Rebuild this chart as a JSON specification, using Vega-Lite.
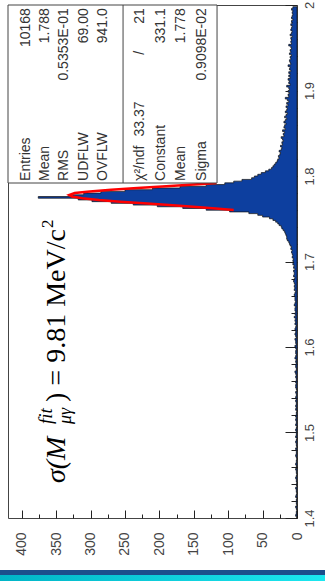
{
  "$schema": "https://vega.github.io/schema/vega-lite/v6.json",
  "width": 289,
  "height": 513,
  "autosize": "none",
  "padding": {"left": 8, "top": 5, "right": 28, "bottom": 63},
  "background": "white",
  "config": {"view": {"stroke": "#444", "strokeWidth": 1}, "font": "Liberation Sans"},
  "datasets": {
    "hist": [
      {"lo":1.400,"n":1},{"lo":1.402,"n":0},{"lo":1.404,"n":2},{"lo":1.406,"n":1},{"lo":1.408,"n":1},{"lo":1.410,"n":0},{"lo":1.412,"n":1},{"lo":1.414,"n":2},{"lo":1.416,"n":0},{"lo":1.418,"n":1},
      {"lo":1.420,"n":1},{"lo":1.422,"n":1},{"lo":1.424,"n":0},{"lo":1.426,"n":2},{"lo":1.428,"n":1},{"lo":1.430,"n":0},{"lo":1.432,"n":1},{"lo":1.434,"n":1},{"lo":1.436,"n":2},{"lo":1.438,"n":0},
      {"lo":1.440,"n":1},{"lo":1.442,"n":0},{"lo":1.444,"n":1},{"lo":1.446,"n":1},{"lo":1.448,"n":2},{"lo":1.450,"n":1},{"lo":1.452,"n":0},{"lo":1.454,"n":1},{"lo":1.456,"n":1},{"lo":1.458,"n":2},
      {"lo":1.460,"n":0},{"lo":1.462,"n":1},{"lo":1.464,"n":2},{"lo":1.466,"n":1},{"lo":1.468,"n":1},{"lo":1.470,"n":0},{"lo":1.472,"n":1},{"lo":1.474,"n":2},{"lo":1.476,"n":1},{"lo":1.478,"n":1},
      {"lo":1.480,"n":1},{"lo":1.482,"n":2},{"lo":1.484,"n":0},{"lo":1.486,"n":1},{"lo":1.488,"n":1},{"lo":1.490,"n":2},{"lo":1.492,"n":1},{"lo":1.494,"n":0},{"lo":1.496,"n":2},{"lo":1.498,"n":1},
      {"lo":1.500,"n":1},{"lo":1.502,"n":1},{"lo":1.504,"n":2},{"lo":1.506,"n":1},{"lo":1.508,"n":0},{"lo":1.510,"n":2},{"lo":1.512,"n":1},{"lo":1.514,"n":1},{"lo":1.516,"n":2},{"lo":1.518,"n":1},
      {"lo":1.520,"n":2},{"lo":1.522,"n":1},{"lo":1.524,"n":1},{"lo":1.526,"n":0},{"lo":1.528,"n":2},{"lo":1.530,"n":1},{"lo":1.532,"n":2},{"lo":1.534,"n":1},{"lo":1.536,"n":1},{"lo":1.538,"n":2},
      {"lo":1.540,"n":1},{"lo":1.542,"n":2},{"lo":1.544,"n":1},{"lo":1.546,"n":1},{"lo":1.548,"n":2},{"lo":1.550,"n":0},{"lo":1.552,"n":1},{"lo":1.554,"n":2},{"lo":1.556,"n":2},{"lo":1.558,"n":1},
      {"lo":1.560,"n":2},{"lo":1.562,"n":1},{"lo":1.564,"n":1},{"lo":1.566,"n":2},{"lo":1.568,"n":1},{"lo":1.570,"n":2},{"lo":1.572,"n":3},{"lo":1.574,"n":1},{"lo":1.576,"n":1},{"lo":1.578,"n":2},
      {"lo":1.580,"n":2},{"lo":1.582,"n":1},{"lo":1.584,"n":2},{"lo":1.586,"n":1},{"lo":1.588,"n":3},{"lo":1.590,"n":2},{"lo":1.592,"n":1},{"lo":1.594,"n":2},{"lo":1.596,"n":2},{"lo":1.598,"n":1},
      {"lo":1.600,"n":2},{"lo":1.602,"n":3},{"lo":1.604,"n":1},{"lo":1.606,"n":2},{"lo":1.608,"n":2},{"lo":1.610,"n":3},{"lo":1.612,"n":1},{"lo":1.614,"n":2},{"lo":1.616,"n":3},{"lo":1.618,"n":2},
      {"lo":1.620,"n":2},{"lo":1.622,"n":3},{"lo":1.624,"n":2},{"lo":1.626,"n":1},{"lo":1.628,"n":3},{"lo":1.630,"n":2},{"lo":1.632,"n":3},{"lo":1.634,"n":2},{"lo":1.636,"n":4},{"lo":1.638,"n":2},
      {"lo":1.640,"n":3},{"lo":1.642,"n":2},{"lo":1.644,"n":3},{"lo":1.646,"n":3},{"lo":1.648,"n":2},{"lo":1.650,"n":4},{"lo":1.652,"n":3},{"lo":1.654,"n":2},{"lo":1.656,"n":3},{"lo":1.658,"n":3},
      {"lo":1.660,"n":3},{"lo":1.662,"n":4},{"lo":1.664,"n":3},{"lo":1.666,"n":2},{"lo":1.668,"n":4},{"lo":1.670,"n":3},{"lo":1.672,"n":4},{"lo":1.674,"n":3},{"lo":1.676,"n":4},{"lo":1.678,"n":5},
      {"lo":1.680,"n":4},{"lo":1.682,"n":3},{"lo":1.684,"n":5},{"lo":1.686,"n":4},{"lo":1.688,"n":4},{"lo":1.690,"n":5},{"lo":1.692,"n":3},{"lo":1.694,"n":5},{"lo":1.696,"n":4},{"lo":1.698,"n":6},
      {"lo":1.700,"n":5},{"lo":1.702,"n":6},{"lo":1.704,"n":5},{"lo":1.706,"n":7},{"lo":1.708,"n":6},{"lo":1.710,"n":7},{"lo":1.712,"n":8},{"lo":1.714,"n":7},{"lo":1.716,"n":9},{"lo":1.718,"n":8},
      {"lo":1.720,"n":10},{"lo":1.722,"n":11},{"lo":1.724,"n":12},{"lo":1.726,"n":14},{"lo":1.728,"n":15},{"lo":1.730,"n":15},{"lo":1.732,"n":16},{"lo":1.734,"n":17},{"lo":1.736,"n":18},{"lo":1.738,"n":20},
      {"lo":1.740,"n":22},{"lo":1.742,"n":23},{"lo":1.744,"n":26},{"lo":1.746,"n":28},{"lo":1.748,"n":31},{"lo":1.750,"n":35},{"lo":1.752,"n":40},{"lo":1.754,"n":50},{"lo":1.756,"n":57},{"lo":1.758,"n":70},
      {"lo":1.760,"n":98},{"lo":1.762,"n":132},{"lo":1.764,"n":166},{"lo":1.766,"n":203},{"lo":1.768,"n":238},{"lo":1.770,"n":270},{"lo":1.772,"n":298},{"lo":1.774,"n":318},{"lo":1.776,"n":376},{"lo":1.778,"n":326},
      {"lo":1.780,"n":310},{"lo":1.782,"n":285},{"lo":1.784,"n":250},{"lo":1.786,"n":210},{"lo":1.788,"n":170},{"lo":1.790,"n":132},{"lo":1.792,"n":105},{"lo":1.794,"n":92},{"lo":1.796,"n":80},{"lo":1.798,"n":66},
      {"lo":1.800,"n":62},{"lo":1.802,"n":57},{"lo":1.804,"n":52},{"lo":1.806,"n":46},{"lo":1.808,"n":41},{"lo":1.810,"n":37},{"lo":1.812,"n":35},{"lo":1.814,"n":33},{"lo":1.816,"n":31},{"lo":1.818,"n":29},
      {"lo":1.820,"n":28},{"lo":1.822,"n":26},{"lo":1.824,"n":27},{"lo":1.826,"n":25},{"lo":1.828,"n":24},{"lo":1.830,"n":26},{"lo":1.832,"n":23},{"lo":1.834,"n":22},{"lo":1.836,"n":24},{"lo":1.838,"n":21},
      {"lo":1.840,"n":22},{"lo":1.842,"n":20},{"lo":1.844,"n":21},{"lo":1.846,"n":23},{"lo":1.848,"n":19},{"lo":1.850,"n":20},{"lo":1.852,"n":18},{"lo":1.854,"n":21},{"lo":1.856,"n":17},{"lo":1.858,"n":19},
      {"lo":1.860,"n":18},{"lo":1.862,"n":16},{"lo":1.864,"n":19},{"lo":1.866,"n":17},{"lo":1.868,"n":15},{"lo":1.870,"n":18},{"lo":1.872,"n":16},{"lo":1.874,"n":14},{"lo":1.876,"n":17},{"lo":1.878,"n":15},
      {"lo":1.880,"n":14},{"lo":1.882,"n":16},{"lo":1.884,"n":13},{"lo":1.886,"n":15},{"lo":1.888,"n":12},{"lo":1.890,"n":14},{"lo":1.892,"n":17},{"lo":1.894,"n":12},{"lo":1.896,"n":13},{"lo":1.898,"n":11},
      {"lo":1.900,"n":13},{"lo":1.902,"n":11},{"lo":1.904,"n":12},{"lo":1.906,"n":15},{"lo":1.908,"n":10},{"lo":1.910,"n":12},{"lo":1.912,"n":11},{"lo":1.914,"n":13},{"lo":1.916,"n":10},{"lo":1.918,"n":12},
      {"lo":1.920,"n":10},{"lo":1.922,"n":12},{"lo":1.924,"n":9},{"lo":1.926,"n":11},{"lo":1.928,"n":10},{"lo":1.930,"n":13},{"lo":1.932,"n":9},{"lo":1.934,"n":10},{"lo":1.936,"n":11},{"lo":1.938,"n":9},
      {"lo":1.940,"n":10},{"lo":1.942,"n":8},{"lo":1.944,"n":11},{"lo":1.946,"n":9},{"lo":1.948,"n":10},{"lo":1.950,"n":8},{"lo":1.952,"n":9},{"lo":1.954,"n":12},{"lo":1.956,"n":8},{"lo":1.958,"n":9},
      {"lo":1.960,"n":8},{"lo":1.962,"n":9},{"lo":1.964,"n":7},{"lo":1.966,"n":10},{"lo":1.968,"n":8},{"lo":1.970,"n":7},{"lo":1.972,"n":9},{"lo":1.974,"n":8},{"lo":1.976,"n":7},{"lo":1.978,"n":9},
      {"lo":1.980,"n":7},{"lo":1.982,"n":8},{"lo":1.984,"n":6},{"lo":1.986,"n":8},{"lo":1.988,"n":7},{"lo":1.990,"n":6},{"lo":1.992,"n":7},{"lo":1.994,"n":6},{"lo":1.996,"n":8},{"lo":1.998,"n":6}
    ],
    "fit": [
      {"m":1.7602,"f":92},{"m":1.762,"f":118},{"m":1.764,"f":151},{"m":1.766,"f":186},{"m":1.768,"f":223},{"m":1.770,"f":257},{"m":1.772,"f":288},{"m":1.774,"f":312},{"m":1.776,"f":327},{"m":1.7778,"f":331},
      {"m":1.780,"f":323},{"m":1.782,"f":301},{"m":1.784,"f":270},{"m":1.786,"f":232},{"m":1.788,"f":190},{"m":1.790,"f":150},{"m":1.7918,"f":117}
    ],
    "one": [{}]
  },
  "resolve": {"axis": {"x": "independent", "y": "independent"}},
  "layer": [
    {
      "data": {"name": "hist"},
      "mark": {"type": "area", "orient": "horizontal", "interpolate": "step-before", "fill": "#0d3f9f", "stroke": "#111", "strokeWidth": 0.7},
      "encoding": {
        "y": {"field": "lo", "type": "quantitative", "scale": {"domain": [1.4, 2.0], "nice": false, "zero": false},
              "axis": {"orient": "right", "values": [1.4, 1.5, 1.6, 1.7, 1.8, 1.9, 2.0], "format": ".1~f", "title": null, "grid": false, "domain": false,
                       "tickSize": -12, "tickColor": "#222", "tickWidth": 1, "labelAngle": -90, "labelAlign": "center", "labelBaseline": "top",
                       "labelPadding": 18, "labelFontSize": 13, "labelColor": "#444", "labelFont": "Liberation Sans", "labelFlush": false, "labelOverlap": false}},
        "x": {"field": "n", "type": "quantitative", "stack": null, "scale": {"domain": [0, 420], "reverse": true, "nice": false, "zero": false},
              "axis": {"orient": "bottom", "values": [0, 50, 100, 150, 200, 250, 300, 350, 400], "title": null, "grid": false, "domain": false,
                       "tickSize": -8, "tickColor": "#222", "tickWidth": 1, "labelAngle": -90, "labelAlign": "right", "labelBaseline": "middle",
                       "labelPadding": 22, "labelFontSize": 14, "labelColor": "#444", "labelFont": "Liberation Sans", "labelFlush": false, "labelOverlap": false}}
      }
    },
    {
      "data": {"name": "fit"},
      "mark": {"type": "line", "color": "#ff0000", "strokeWidth": 2.5},
      "encoding": {
        "y": {"field": "m", "type": "quantitative", "scale": {"domain": [1.4, 2.0], "nice": false, "zero": false},
              "axis": {"orient": "right", "values": [1.42,1.44,1.46,1.48,1.52,1.54,1.56,1.58,1.62,1.64,1.66,1.68,1.72,1.74,1.76,1.78,1.82,1.84,1.86,1.88,1.92,1.94,1.96,1.98],
                       "labels": false, "title": null, "grid": false, "domain": false, "tickSize": -6, "tickColor": "#222", "tickWidth": 1}},
        "x": {"field": "f", "type": "quantitative", "scale": {"domain": [0, 420], "reverse": true, "nice": false, "zero": false},
              "axis": {"orient": "bottom", "values": [25, 75, 125, 175, 225, 275, 325, 375],
                       "labels": false, "title": null, "grid": false, "domain": false, "tickSize": -4, "tickColor": "#222", "tickWidth": 1}},
        "order": {"field": "m", "type": "quantitative"}
      }
    },
    {
      "data": {"name": "one"},
      "mark": {"type": "rect", "fill": "white", "stroke": "#444", "strokeWidth": 1},
      "encoding": {
        "x": {"datum": 420, "type": "quantitative", "axis": null},
        "x2": {"datum": 116.2},
        "y": {"datum": 2.0, "type": "quantitative", "axis": null},
        "y2": {"datum": 1.7918}
      }
    },
    {
      "data": {"name": "one"},
      "mark": {"type": "rule", "color": "#444", "strokeWidth": 1},
      "encoding": {
        "x": {"datum": 252.8, "type": "quantitative", "axis": null},
        "y": {"datum": 2.0, "type": "quantitative", "axis": null},
        "y2": {"datum": 1.7918}
      }
    },
    {
      "data": {"name": "one"},
      "mark": {"type": "text", "text": ["Entries", "Mean", "RMS", "UDFLW", "OVFLW"], "angle": -90, "align": "left", "baseline": "top", "lineHeight": 19.2, "font": "Liberation Sans", "fontSize": 14, "color": "#333"},
      "encoding": {
        "x": {"datum": 404, "type": "quantitative", "axis": null},
        "y": {"datum": 1.7942, "type": "quantitative", "axis": null}
      }
    },
    {
      "data": {"name": "one"},
      "mark": {"type": "text", "text": ["10168", "1.788", "0.5353E-01", "69.00", "941.0"], "angle": -90, "align": "right", "baseline": "top", "lineHeight": 19.2, "font": "Liberation Sans", "fontSize": 14, "color": "#333"},
      "encoding": {
        "x": {"datum": 404, "type": "quantitative", "axis": null},
        "y": {"datum": 1.9963, "type": "quantitative", "axis": null}
      }
    },
    {
      "data": {"name": "one"},
      "mark": {"type": "text", "text": ["χ²/ndf", "Constant", "Mean", "Sigma"], "angle": -90, "align": "left", "baseline": "top", "lineHeight": 20.5, "font": "Liberation Sans", "fontSize": 14, "color": "#333"},
      "encoding": {
        "x": {"datum": 238, "type": "quantitative", "axis": null},
        "y": {"datum": 1.7942, "type": "quantitative", "axis": null}
      }
    },
    {
      "data": {"name": "one"},
      "mark": {"type": "text", "text": ["33.37\u00a0\u00a0\u00a0\u00a0\u00a0\u00a0\u00a0\u00a0\u00a0\u00a0\u00a0\u00a0/\u00a0\u00a0\u00a0\u00a0\u00a0\u00a0\u00a021", "331.1", "1.778", "0.9098E-02"], "angle": -90, "align": "right", "baseline": "top", "lineHeight": 20.5, "font": "Liberation Sans", "fontSize": 14, "color": "#333"},
      "encoding": {
        "x": {"datum": 238, "type": "quantitative", "axis": null},
        "y": {"datum": 1.9963, "type": "quantitative", "axis": null}
      }
    },
    {
      "data": {"name": "one"},
      "mark": {"type": "text", "text": "σ(M", "angle": -90, "align": "left", "baseline": "alphabetic", "font": "Liberation Serif", "fontStyle": "italic", "fontSize": 28, "color": "#000"},
      "encoding": {
        "x": {"datum": 337, "type": "quantitative", "axis": null},
        "y": {"datum": 1.4409, "type": "quantitative", "axis": null}
      }
    },
    {
      "data": {"name": "one"},
      "mark": {"type": "text", "text": "fit", "angle": -90, "align": "left", "baseline": "alphabetic", "font": "Liberation Serif", "fontStyle": "italic", "fontSize": 19, "color": "#000"},
      "encoding": {
        "x": {"datum": 356, "type": "quantitative", "axis": null},
        "y": {"datum": 1.5099, "type": "quantitative", "axis": null}
      }
    },
    {
      "data": {"name": "one"},
      "mark": {"type": "text", "text": "μγ", "angle": -90, "align": "left", "baseline": "alphabetic", "font": "Liberation Serif", "fontStyle": "italic", "fontSize": 18, "color": "#000"},
      "encoding": {
        "x": {"datum": 328, "type": "quantitative", "axis": null},
        "y": {"datum": 1.5099, "type": "quantitative", "axis": null}
      }
    },
    {
      "data": {"name": "one"},
      "mark": {"type": "text", "text": ") = 9.81 MeV/c", "angle": -90, "align": "left", "baseline": "alphabetic", "font": "Liberation Serif", "fontSize": 28, "color": "#000"},
      "encoding": {
        "x": {"datum": 337, "type": "quantitative", "axis": null},
        "y": {"datum": 1.5357, "type": "quantitative", "axis": null}
      }
    },
    {
      "data": {"name": "one"},
      "mark": {"type": "text", "text": "2", "angle": -90, "align": "left", "baseline": "alphabetic", "font": "Liberation Serif", "fontSize": 17, "color": "#000"},
      "encoding": {
        "x": {"datum": 354.5, "type": "quantitative", "axis": null},
        "y": {"datum": 1.7392, "type": "quantitative", "axis": null}
      }
    },
    {
      "data": {"name": "one"},
      "mark": {"type": "rect", "color": "#1c4f8c"},
      "encoding": {
        "x": {"datum": 440, "type": "quantitative", "axis": null},
        "x2": {"datum": -50},
        "y": {"datum": 1.3392, "type": "quantitative", "axis": null},
        "y2": {"datum": 1.3333}
      }
    },
    {
      "data": {"name": "one"},
      "mark": {"type": "rect", "color": {"gradient": "linear", "x1": 0, "y1": 0, "x2": 1, "y2": 0, "stops": [{"offset": 0, "color": "#00b4c6"}, {"offset": 1, "color": "#1ce8f0"}]}},
      "encoding": {
        "x": {"datum": 440, "type": "quantitative", "axis": null},
        "x2": {"datum": -50},
        "y": {"datum": 1.3333, "type": "quantitative", "axis": null},
        "y2": {"datum": 1.32}
      }
    }
  ]
}
